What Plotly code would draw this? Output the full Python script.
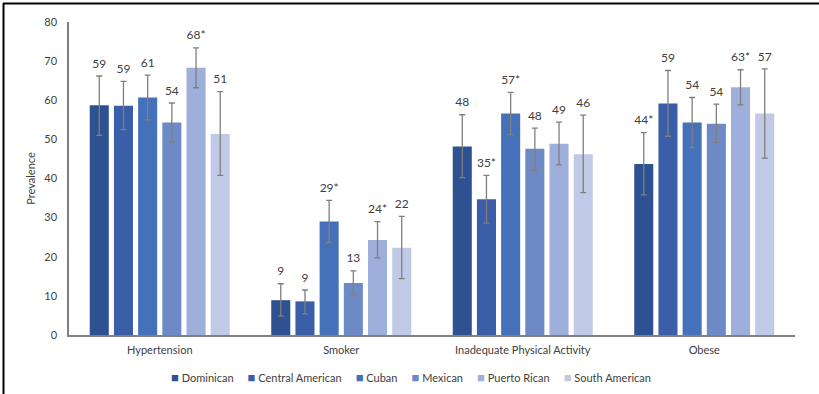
import plotly.graph_objects as go

# Health indicators by Hispanic/Latino heritage group
categories = ["Hypertension", "Smoker", "Inadequate Physical Activity", "Obese"]
groups = ["Dominican", "Central American", "Cuban", "Mexican", "Puerto Rican", "South American"]
colors = ["#2E5291", "#3A5EA8", "#4571BA", "#6E8AC6", "#9EAFDB", "#C0CAE6"]

# Prevalence (%) per group, one value per indicator
prevalence = {
    "Dominican":        [58.7, 8.9, 48.2, 43.7],
    "Central American": [58.6, 8.6, 34.7, 59.2],
    "Cuban":            [60.7, 29.0, 56.6, 54.3],
    "Mexican":          [54.3, 13.3, 47.6, 54.0],
    "Puerto Rican":     [68.3, 24.3, 48.9, 63.3],
    "South American":   [51.4, 22.3, 46.2, 56.6],
}
# 95% confidence interval bounds
ci_lower = {
    "Dominican":        [51.0, 4.8, 40.2, 35.8],
    "Central American": [52.5, 5.4, 28.6, 50.8],
    "Cuban":            [55.0, 23.6, 51.2, 47.9],
    "Mexican":          [49.3, 10.3, 42.1, 49.2],
    "Puerto Rican":     [63.2, 19.7, 43.5, 58.8],
    "South American":   [40.8, 14.4, 36.4, 45.2],
}
ci_upper = {
    "Dominican":        [66.2, 13.1, 56.3, 51.7],
    "Central American": [64.8, 11.5, 40.8, 67.6],
    "Cuban":            [66.4, 34.4, 62.0, 60.7],
    "Mexican":          [59.3, 16.4, 52.9, 59.0],
    "Puerto Rican":     [73.4, 29.0, 54.4, 67.8],
    "South American":   [62.2, 30.3, 56.2, 68.0],
}
# Statistically significant differences (marked with *)
significant = {
    "Dominican":        [False, False, False, True],
    "Central American": [False, False, True, False],
    "Cuban":            [False, True, True, False],
    "Mexican":          [False, False, False, False],
    "Puerto Rican":     [True, True, False, True],
    "South American":   [False, False, False, False],
}

FONT = "Lato"
slot = 0.1333      # spacing between bars inside a cluster
bar_w = 0.105      # bar width in category units

fig = go.Figure()
n = len(groups)
for k, g in enumerate(groups):
    off = (k - (n - 1) / 2) * slot
    xs = [i + off for i in range(len(categories))]
    vals = prevalence[g]
    up = [u - v for u, v in zip(ci_upper[g], vals)]
    dn = [v - l for v, l in zip(vals, ci_lower[g])]
    fig.add_trace(go.Bar(
        x=xs, y=vals, width=bar_w, name=g, showlegend=False,
        marker=dict(color=colors[k], line=dict(width=0)),
        error_y=dict(type="data", symmetric=False, array=up, arrayminus=dn,
                     color="#7F7F7F", thickness=1.3, width=3),
    ))
    labels = [f"{v:.0f}" + ("*" if s else "") for v, s in zip(vals, significant[g])]
    fig.add_trace(go.Scatter(
        x=xs, y=ci_upper[g], mode="markers+text", text=labels,
        marker=dict(size=7, color="rgba(0,0,0,0)"),
        textposition="top center", showlegend=False, hoverinfo="skip",
        textfont=dict(family=FONT, size=12, color="#404040"),
    ))

L, R, T, B = 69, 24, 22, 59
pw, ph = 819 - L - R, 394 - T - B
px = lambda v: (v - L) / pw
py = lambda v: (394 - B - v) / ph

# Legend row built as a single line of text
gap = "\u00a0" * 5
legend_text = gap.join(
    f'<span style="color:{c};font-size:13px">■</span>\u00a0{g}' for g, c in zip(groups, colors)
)
fig.add_annotation(text=legend_text, xref="paper", yref="paper",
                   x=px(411), y=py(377), xanchor="center", yanchor="middle",
                   showarrow=False, font=dict(family=FONT, size=11, color="#404040"))

# Outer frame lines (top and left)
fig.add_shape(type="line", xref="paper", yref="paper",
              x0=px(3), x1=px(819), y0=py(3.5), y1=py(3.5),
              line=dict(color="#000000", width=2))
fig.add_shape(type="line", xref="paper", yref="paper",
              x0=px(3.5), x1=px(3.5), y0=py(3), y1=py(394),
              line=dict(color="#000000", width=2))

fig.update_layout(
    width=819, height=394,
    margin=dict(l=L, r=R, t=T, b=B),
    barmode="overlay",
    plot_bgcolor="white", paper_bgcolor="white",
    font=dict(family=FONT, size=11, color="#595959"),
    showlegend=False,
    xaxis=dict(range=[-0.5, 3.5], tickmode="array",
               tickvals=list(range(len(categories))), ticktext=categories,
               showgrid=False, zeroline=False, showline=True,
               linecolor="#808080", linewidth=1.5, ticks="",
               ticklabelstandoff=4,
               tickfont=dict(family=FONT, size=11, color="#404040")),
    yaxis=dict(range=[0, 80], dtick=10, showgrid=False, zeroline=False,
               showline=True, linecolor="#808080", linewidth=1.5, ticks="",
               ticklen=0, ticklabelstandoff=8,
               title=dict(text="Prevalence", standoff=6,
                          font=dict(family=FONT, size=11, color="#404040")),
               tickfont=dict(family=FONT, size=11, color="#404040")),
)

fig.write_html("out.html")
